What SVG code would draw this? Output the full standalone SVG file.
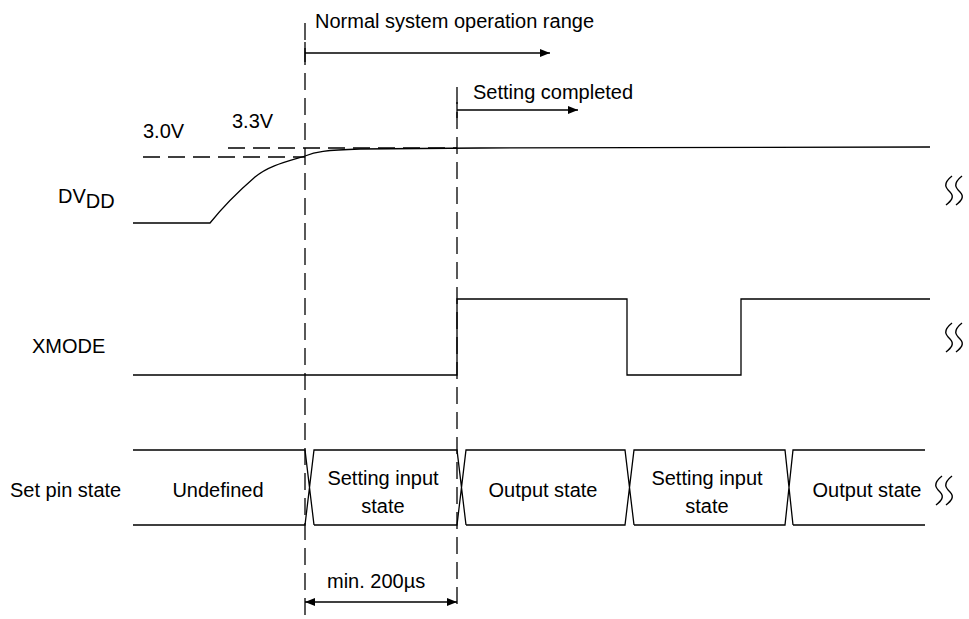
<svg xmlns="http://www.w3.org/2000/svg" width="969" height="619" viewBox="0 0 969 619">
<defs>
<marker id="ah" viewBox="0 0 10 8" refX="10" refY="4" markerWidth="10" markerHeight="8" markerUnits="userSpaceOnUse" orient="auto-start-reverse">
<path d="M0,0 L10,4 L0,8 Z" fill="#000"/>
</marker>
<style>
.t{font-family:"Liberation Sans",Arial,sans-serif;font-size:20px;fill:#000}
.c{text-anchor:middle}
.s{fill:none;stroke:#000;stroke-width:1.3}
.d{fill:none;stroke:#000;stroke-width:1.3;stroke-dasharray:17,8}
.w{fill:none;stroke:#000;stroke-width:1.4}
</style>
</defs>
<rect width="969" height="619" fill="#fff"/>

<g id="guides">
<line class="d" x1="305" y1="23" x2="305" y2="619"/>
<line class="d" x1="457" y1="87" x2="457" y2="610"/>
<line class="d" x1="143" y1="157" x2="305" y2="157"/>
<line class="d" x1="228" y1="148" x2="457" y2="148"/>
</g>

<g id="labels">
<text class="t" x="58" y="203">DV<tspan dy="5">DD</tspan></text>
<text class="t" x="32" y="353">XMODE</text>
<text class="t" x="10" y="497">Set pin state</text>
<text class="t" x="143" y="138">3.0V</text>
<text class="t" x="232" y="128">3.3V</text>
</g>

<g id="dvdd">
<path class="s" d="M133,223 L210,223 C222,208 240,190 255,177 C268,166 285,162 305,156 C315,152 325,150 360,149 L480,148 L930,147"/>
</g>

<g id="xmode">
<path class="s" d="M133,375 L457,375 L457,299 L627,299 L627,375 L741,375 L741,299 L930,299"/>
</g>

<g id="setpin">
<path class="s" d="M133,450 L305,450 L314,525 M133,525 L305,525 L314,450 L457,450 L466,525 M314,525 L457,525 L466,450 L625,450 L634,525 M466,525 L625,525 L634,450 L785,450 L793,525 M634,525 L785,525 L793,450 L925,450 M793,525 L925,525"/>
<text class="t c" x="218" y="497">Undefined</text>
<text class="t c" x="383" y="485">Setting input</text>
<text class="t c" x="383" y="513">state</text>
<text class="t c" x="543" y="497">Output state</text>
<text class="t c" x="707" y="485">Setting input</text>
<text class="t c" x="707" y="513">state</text>
<text class="t c" x="867" y="497">Output state</text>
</g>

<g id="breaks">
<path class="w" d="M952,176 C942,184 946,188 950,192 C955,197 951,201 946,205 M962,176 C952,184 956,188 960,192 C965,197 961,201 956,205"/>
<path class="w" d="M952,323 C942,331 946,335 950,339 C955,344 951,348 946,352 M962,323 C952,331 956,335 960,339 C965,344 961,348 956,352"/>
<path class="w" d="M942,476 C932,484 936,488 940,492 C945,497 941,501 936,505 M952,476 C942,484 946,488 950,492 C955,497 951,501 946,505"/>
</g>

<g id="connectors">
<line class="s" x1="305" y1="42" x2="305" y2="62"/>
<line class="s" x1="305" y1="53" x2="550" y2="53" marker-end="url(#ah)"/>
<line class="s" x1="457" y1="102" x2="457" y2="118"/>
<line class="s" x1="457" y1="110" x2="578" y2="110" marker-end="url(#ah)"/>
<line class="s" x1="305" y1="602" x2="457" y2="602" marker-start="url(#ah)" marker-end="url(#ah)"/>
</g>

<g id="annotations">
<text class="t" x="315" y="28">Normal system operation range</text>
<text class="t" x="473" y="99">Setting completed</text>
<text class="t" x="327" y="588">min. 200µs</text>
</g>
</svg>
